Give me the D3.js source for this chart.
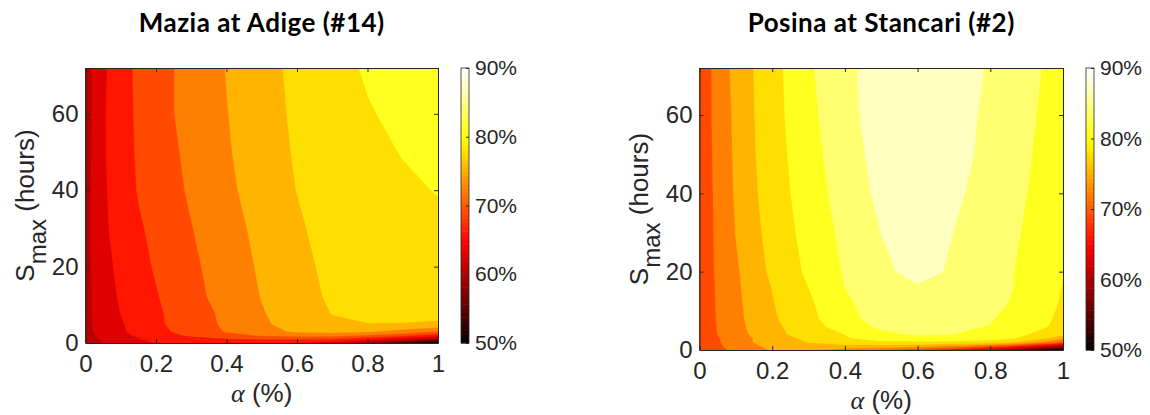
<!DOCTYPE html>
<html>
<head>
<meta charset="utf-8">
<script src="https://cdn.jsdelivr.net/npm/d3@7"></script>
<style>
  body { margin: 0; background: #fff; }
  text { font-family: "Liberation Sans", Arial, Helvetica, sans-serif; fill: #262626; }
  .domain, .tick line { stroke: #262626; }
</style>
</head>
<body>
<svg id="chart" width="1150" height="415"></svg>
<script>
// contour levels (%) and colour axis
var levels = [48, 51, 54, 57, 60, 63, 66, 69, 72, 75, 78, 81, 84, 87];
var colorLimits = [50, 90];
var cbarTicks = [50, 60, 70, 80, 90];
var xTicks = [0, 0.2, 0.4, 0.6, 0.8, 1];
var yTicks = [0, 20, 40, 60];
var smaxRange = [0, 72];

// Mazia at Adige (#14): rows = Smax (hours), columns = alpha
var maziaAlpha = [0, 0.02, 0.05, 0.1, 0.15, 0.2, 0.3, 0.4, 0.5, 0.6, 0.7, 0.8, 0.9, 1];
var maziaSmax = [0, 1, 2, 3, 5, 8, 12, 20, 30, 40, 50, 60, 72];
var maziaEff = [
  [61.0, 62.0, 63.1, 64.2, 65.4, 66.1, 66.5, 66.6, 66.5, 65.9, 64.0, 59.8, 55.0, 50.0],
  [61.3, 62.4, 63.5, 64.6, 65.8, 66.6, 67.8, 68.8, 69.2, 69.4, 68.9, 67.0, 63.5, 59.8],
  [61.5, 62.7, 64.0, 65.2, 66.5, 67.6, 69.5, 71.0, 72.3, 73.1, 73.1, 71.9, 70.0, 67.5],
  [61.6, 62.9, 64.3, 65.5, 67.1, 68.1, 70.2, 72.2, 74.0, 75.4, 75.8, 75.3, 74.0, 71.9],
  [61.8, 63.1, 64.6, 65.7, 67.3, 68.4, 70.8, 72.4, 74.5, 76.3, 77.6, 77.95, 77.9, 77.6],
  [62.0, 63.1, 64.8, 66.05, 67.3, 68.5, 70.8, 72.6, 74.8, 76.6, 78.1, 78.6, 78.8, 78.9],
  [62.0, 63.2, 64.9, 66.3, 67.7, 68.8, 71.1, 73.1, 75.1, 76.9, 78.4, 79.0, 79.1, 79.2],
  [62.0, 63.3, 65.2, 66.6, 68.1, 69.3, 71.4, 73.5, 75.4, 77.2, 78.7, 79.3, 79.5, 79.6],
  [61.9, 63.4, 65.5, 67.1, 68.6, 69.8, 71.9, 73.9, 75.8, 77.6, 79.1, 79.8, 80.2, 80.5],
  [61.7, 63.4, 65.6, 67.4, 69.2, 70.3, 72.4, 74.4, 76.3, 78.05, 79.3, 80.1, 80.6, 81.1],
  [61.5, 63.4, 65.7, 67.6, 69.4, 70.6, 72.7, 74.7, 76.6, 78.3, 79.6, 80.4, 81.1, 81.7],
  [61.3, 63.3, 65.7, 67.7, 69.5, 70.8, 73.1, 74.9, 76.8, 78.5, 79.9, 80.8, 81.6, 82.3],
  [61.0, 63.3, 65.5, 67.8, 69.6, 70.8, 73.1, 75.1, 77.1, 78.6, 80.1, 81.3, 82.2, 83.0]
];

// Posina at Stancari (#2)
var posinaAlpha = [0, 0.02, 0.05, 0.1, 0.15, 0.2, 0.3, 0.4, 0.5, 0.6, 0.7, 0.8, 0.85, 0.9, 0.95, 1];
var posinaSmax = [0, 1, 2, 3, 4, 6, 8, 12, 16, 20, 30, 40, 50, 60, 72];
var posinaEff = [
  [68.8, 69.8, 71.3, 72.6, 74.3, 75.2, 75.1, 73.8, 72.1, 70.0, 67.1, 62.9, 59.8, 56.8, 53.5, 50.0],
  [69.0, 70.1, 71.6, 73.1, 74.6, 75.7, 77.1, 77.3, 77.1, 76.0, 74.5, 71.8, 70.1, 67.1, 64.1, 61.1],
  [69.2, 70.2, 71.7, 73.4, 75.1, 76.2, 78.1, 79.4, 80.3, 80.6, 80.4, 79.5, 78.5, 76.5, 74.1, 71.1],
  [69.4, 70.4, 71.8, 73.6, 75.1, 76.5, 78.7, 80.7, 82.6, 83.3, 83.3, 82.5, 81.6, 80.1, 78.3, 76.1],
  [69.5, 70.55, 72.05, 73.9, 75.5, 77.1, 79.3, 81.06, 83.4, 84.3, 83.98, 83.3, 82.5, 81.1, 80.1, 78.5],
  [69.6, 70.64, 72.15, 74.05, 75.74, 77.32, 79.65, 82.5, 84.5, 84.9, 84.6, 83.9, 82.9, 82.1, 81.2, 80.1],
  [69.7, 70.75, 72.23, 74.18, 75.95, 77.58, 80.06, 83.3, 84.9, 85.5, 85.1, 84.2, 83.4, 82.5, 81.5, 80.3],
  [69.8, 70.85, 72.32, 74.32, 76.13, 77.83, 80.48, 83.64, 85.1, 86.1, 85.7, 84.6, 83.98, 82.95, 81.8, 80.7],
  [69.9, 70.9, 72.37, 74.46, 76.32, 78.09, 81.02, 84.02, 85.5, 86.9, 86.3, 85.2, 84.3, 83.2, 82.1, 80.9],
  [70.1, 71.1, 72.43, 74.57, 76.71, 78.59, 81.54, 84.27, 86.73, 87.4, 86.83, 85.05, 84.3, 83.33, 82.2, 81.1],
  [70.1, 71.07, 72.56, 75.09, 77.26, 79.04, 82.08, 84.73, 87.02, 87.9, 86.98, 85.38, 84.57, 83.74, 82.87, 82.1],
  [70.2, 71.15, 72.67, 75.36, 77.6, 79.41, 82.54, 85.23, 87.72, 88.3, 87.7, 85.37, 84.88, 84.02, 83.15, 82.3],
  [70.3, 71.22, 72.76, 75.55, 77.82, 79.64, 82.92, 85.63, 88.12, 88.6, 88.1, 86.1, 85.18, 84.27, 83.36, 82.45],
  [70.4, 71.3, 72.86, 75.68, 77.95, 79.81, 83.27, 85.98, 88.5, 88.9, 88.2, 86.35, 85.4, 84.5, 83.57, 82.6],
  [70.5, 71.3, 72.9, 76.1, 78.05, 79.9, 83.6, 86.15, 88.7, 89.1, 88.5, 86.7, 85.8, 84.9, 83.8, 82.8]
];

// MATLAB style hot(64) colormap
function hot(m) {
  var n = Math.floor(3 / 8 * m), out = [];
  for (var k = 1; k <= m; k++) {
    var r = Math.min(k / n, 1),
        g = Math.max(0, Math.min((k - n) / n, 1)),
        b = Math.max(0, (k - 2 * n) / (m - 2 * n));
    out.push(d3.rgb(r * 255, g * 255, b * 255).formatHex());
  }
  return out;
}
var cmap = hot(64);
var color = d3.scaleQuantize().domain(colorLimits).range(cmap);

var svg = d3.select("#chart");

function drawPanel(p) {
  var x = d3.scaleLinear().domain([0, 1]).range([p.left, p.right]);
  var y = d3.scaleLinear().domain(smaxRange).range([p.bottom, p.top]);

  // grid index -> data coordinate (grid is not evenly spaced)
  var nx = p.alpha.length, ny = p.smax.length;
  var gx = d3.scaleLinear().domain(d3.range(nx)).range(p.alpha).clamp(true);
  var gy = d3.scaleLinear().domain(d3.range(ny)).range(p.smax).clamp(true);

  var contours = d3.contours().size([nx, ny]).thresholds(levels)(d3.merge(p.eff));
  var proj = d3.geoTransform({
    point: function(px, py) { this.stream.point(x(gx(px - 0.5)), y(gy(py - 0.5))); }
  });
  var path = d3.geoPath(proj);

  svg.append("clipPath").attr("id", p.id + "-clip")
    .append("rect")
    .attr("x", p.left).attr("y", p.top)
    .attr("width", p.right - p.left).attr("height", p.bottom - p.top);

  svg.append("g")
      .attr("clip-path", "url(#" + p.id + "-clip)")
    .selectAll("path")
    .data(contours)
    .enter().append("path")
      .attr("d", path)
      .attr("fill", function(d) { return color(d.value); })
      .attr("stroke", function(d) { return color(d.value); })
      .attr("stroke-width", 0.3);

  // box axes with inward ticks
  var fmt = function(d) { return String(d); };
  svg.append("g").attr("transform", "translate(0," + p.bottom + ")")
    .call(d3.axisBottom(x).tickValues(xTicks).tickFormat(fmt).tickSizeInner(-4).tickSizeOuter(0).tickPadding(12))
    .call(function(g) { g.selectAll("text").style("font-size", "24px"); });
  svg.append("g").attr("transform", "translate(0," + p.top + ")")
    .call(d3.axisTop(x).tickValues(xTicks).tickFormat("").tickSizeInner(-4).tickSizeOuter(0));
  svg.append("g").attr("transform", "translate(" + p.left + ",0)")
    .call(d3.axisLeft(y).tickValues(yTicks).tickFormat(fmt).tickSizeInner(-4).tickSizeOuter(0).tickPadding(7))
    .call(function(g) { g.selectAll("text").style("font-size", "24px"); });
  svg.append("g").attr("transform", "translate(" + p.right + ",0)")
    .call(d3.axisRight(y).tickValues(yTicks).tickFormat("").tickSizeInner(-4).tickSizeOuter(0));
  svg.selectAll(".tick text").attr("fill", "#262626");
  svg.selectAll("g").attr("font-family", null);

  // title
  svg.append("text")
    .attr("x", (p.left + p.right) / 2).attr("y", 32)
    .attr("text-anchor", "middle")
    .style("font-family", "Lato, 'Open Sans', sans-serif")
    .style("font-weight", "bold").style("font-size", "26px")
    .style("letter-spacing", "0.5px")
    .style("fill", "#000")
    .text(p.title);

  // x label
  var xl = svg.append("text")
    .attr("x", (p.left + p.right) / 2).attr("y", p.bottom + 59)
    .attr("text-anchor", "middle").style("font-size", "26px");
  xl.append("tspan").style("font-family", "'Liberation Serif', 'DejaVu Serif', serif")
    .style("font-style", "italic").text("α");
  xl.append("tspan").text(" (%)");

  // y label
  var yl = svg.append("text")
    .attr("transform", "translate(" + (p.left - 52) + "," + (p.top + p.bottom) / 2 + ") rotate(-90)")
    .attr("text-anchor", "middle").style("font-size", "26px");
  yl.append("tspan").text("S");
  yl.append("tspan").attr("dy", 12).style("font-size", "24px").text("max");
  yl.append("tspan").attr("dy", -12).text(" (hours)");

  // colorbar
  var cy = d3.scaleLinear().domain(colorLimits).range([p.bottom, p.top]);
  var step = (colorLimits[1] - colorLimits[0]) / cmap.length;
  var cb = svg.append("g");
  cb.selectAll("rect")
    .data(cmap)
    .enter().append("rect")
      .attr("x", p.cbX).attr("width", p.cbW)
      .attr("y", function(d, i) { return cy(colorLimits[0] + (i + 1) * step); })
      .attr("height", function(d, i) { return cy(colorLimits[0] + i * step) - cy(colorLimits[0] + (i + 1) * step) + 0.5; })
      .attr("fill", function(d) { return d; });
  cb.append("rect")
    .attr("x", p.cbX).attr("y", p.top).attr("width", p.cbW).attr("height", p.bottom - p.top)
    .attr("fill", "none").attr("stroke", "#262626").attr("stroke-width", 0.8);
  svg.append("g").attr("transform", "translate(" + (p.cbX + p.cbW) + ",0)")
    .call(d3.axisRight(cy).tickValues(cbarTicks).tickFormat(function(d) { return d + "%"; })
      .tickSizeInner(-3).tickSizeOuter(0).tickPadding(6))
    .call(function(g) {
      g.select(".domain").remove();
      g.selectAll("text").style("font-size", "21px").attr("fill", "#262626");
    });
}

drawPanel({ id: "mazia", title: "Mazia at Adige (#14)", alpha: maziaAlpha, smax: maziaSmax, eff: maziaEff,
            left: 85.5, right: 438, top: 68, bottom: 343, cbX: 461, cbW: 8 });
drawPanel({ id: "posina", title: "Posina at Stancari (#2)", alpha: posinaAlpha, smax: posinaSmax, eff: posinaEff,
            left: 699.5, right: 1063, top: 68, bottom: 350, cbX: 1086, cbW: 8 });
</script>
</body>
</html>
